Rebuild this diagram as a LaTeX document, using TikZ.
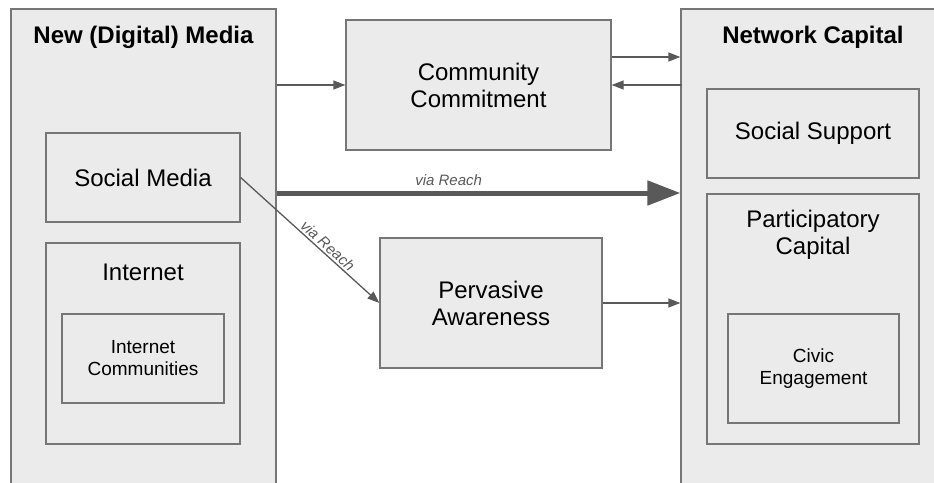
\documentclass[tikz,border=0pt]{standalone}
\usepackage{fontspec}
\setmainfont{Liberation Sans}
\usetikzlibrary{arrows.meta}
\definecolor{boxfill}{HTML}{EBEBEB}
\definecolor{boxline}{HTML}{767676}
\definecolor{arrcol}{HTML}{595959}
\tikzset{
  box/.style={draw=boxline, fill=boxfill, line width=1.3pt, inner sep=0pt, align=center},
  bigtxt/.style={font=\fontsize{24}{27}\selectfont, align=center, inner sep=0pt},
  smalltxt/.style={font=\fontsize{19}{22}\selectfont},
  titletxt/.style={font=\fontsize{24}{27}\selectfont\bfseries, inner sep=0pt},
  arr/.style={draw=arrcol, line width=1.3pt, -{Triangle[length=12pt,width=9pt]}},
  thickarr/.style={draw=arrcol, line width=5pt, -{Triangle[length=33pt,width=24pt]}},
  reach/.style={font=\fontsize{15}{17}\selectfont\itshape, text=arrcol, inner sep=2pt}
}
\begin{document}
\begin{tikzpicture}[x=1pt,y=-1pt]
\useasboundingbox (0,0) rectangle (934,482);
\clip (0,0) rectangle (934,482);
\fill[white] (0,0) rectangle (934,482);
% left column
\node[box, minimum width=265pt, minimum height=482pt] (left) at (143.5,250) {};
\node[titletxt] (lefttitle) at (143.5,37) {New (Digital) Media};
\node[box, bigtxt, minimum width=194pt, minimum height=89pt] (sm) at (143,177.5) {Social Media};
\node[box, minimum width=194pt, minimum height=201pt] (inet) at (143,343.5) {};
\node[bigtxt] (inettitle) at (143,272) {Internet};
\node[box, smalltxt, minimum width=162pt, minimum height=89pt] (ic) at (143,358.5) {Internet\\Communities};
% right column
\node[box, minimum width=264pt, minimum height=482pt] (right) at (813,250) {};
\node[titletxt] (righttitle) at (813,37) {Network Capital};
\node[box, bigtxt, minimum width=212pt, minimum height=89pt] (ss) at (813,133.5) {Social Support};
\node[box, minimum width=212pt, minimum height=250pt] (pc) at (813,319) {};
\node[bigtxt] (pctitle) at (813,235) {Participatory\\Capital};
\node[box, smalltxt, minimum width=171pt, minimum height=109pt] (ce) at (813.5,368.5) {Civic\\Engagement};
% middle
\node[box, bigtxt, minimum width=265pt, minimum height=130pt] (cc) at (478.5,85) {Community\\Commitment};
\node[box, bigtxt, minimum width=222pt, minimum height=130pt] (pa) at (491,303) {Pervasive\\Awareness};
% connectors
\coordinate (thk) at (0,193);
\draw[arr] (left.east |- cc.west) -- (cc.west);
\draw[arr] ([yshift=28pt]cc.east) -- ([yshift=28pt]cc.east -| right.west);
\draw[arr] ([xshift=2pt]right.west |- cc.east) -- (cc.east);
\draw[thickarr] (left.east |- thk) -- node[reach, pos=0.426, above, yshift=3pt] {via Reach} (right.west |- thk);
\draw[arr] (sm.east) -- node[reach, pos=0.59, above, sloped] {via Reach} (pa.west);
\draw[arr] (pa.east) -- (right.west |- pa.east);
\end{tikzpicture}
\end{document}
